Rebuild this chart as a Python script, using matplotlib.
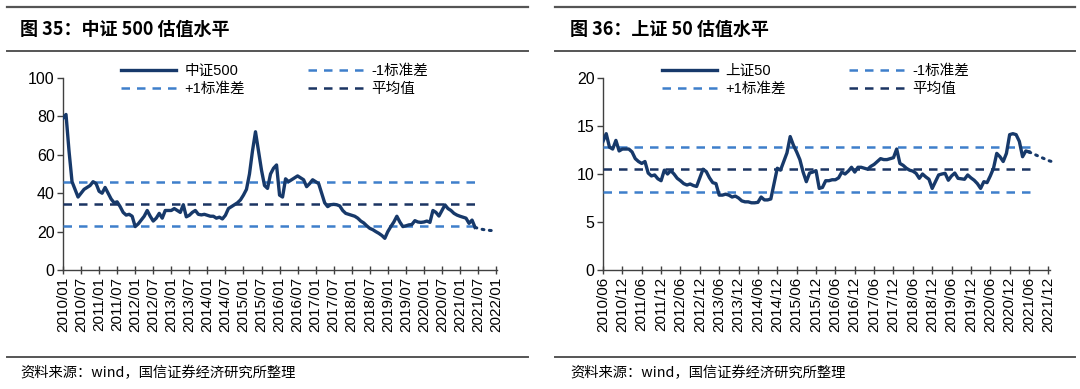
import numpy as np
import matplotlib
matplotlib.use('Agg')
import matplotlib.pyplot as plt

# %% data (monthly)

zz500_pe = [79, 81, 62, 46, 42, 38, 40, 42, 43, 44, 46, 45,
            41, 40, 43, 40, 37, 35, 35.5, 33, 30, 28.6, 29, 28,
            22.6, 24, 26, 28, 31, 28, 25.5, 27, 29.5, 27, 31, 31,
            31, 32, 31, 30, 34, 27.7, 28.5, 30, 31, 29, 28.7, 29,
            28.5, 28, 28, 27, 27.5, 26.6, 28.5, 32, 33, 34, 35, 36.5,
            39, 42, 50, 62, 72, 62, 52, 44, 42.5, 50, 53, 54.7,
            39, 38, 47.5, 46, 47, 48, 49, 48, 47, 43.4, 45, 47,
            46, 45, 40, 35, 33, 34, 34.2, 34, 33.4, 31, 29.5, 29,
            28.5, 28, 27, 25.5, 24.5, 23, 21.7, 21, 20, 19.1, 18, 16.5,
            20, 22.6, 25, 28, 25, 22.6, 23, 23.5, 23.7, 25.7, 25, 24.8,
            25, 25.5, 24.8, 31, 30, 28.1, 31, 33.9, 32, 31, 29.5, 28.6,
            28, 27.5, 27, 24.3, 26, 22.2]
zz500_tail = [22.2, 21.7, 21.3, 21.0, 20.8, 20.6, 20.5]
zz500_mean = 34.4
zz500_up = 45.8
zz500_dn = 23.1
zz500_ticks = ['2010/01', '2010/07', '2011/01', '2011/07', '2012/01', '2012/07',
               '2013/01', '2013/07', '2014/01', '2014/07', '2015/01', '2015/07',
               '2016/01', '2016/07', '2017/01', '2017/07', '2018/01', '2018/07',
               '2019/01', '2019/07', '2020/01', '2020/07', '2021/01', '2021/07',
               '2022/01']

sz50_pe = [13.4, 14.2, 12.8, 12.6, 13.5, 12.4,
           12.6, 12.6, 12.6, 12.3, 11.6, 11.3,
           11.1, 11.3, 10.1, 9.8, 9.9, 9.5,
           9.3, 10.4, 10.0, 10.35, 10.0, 9.55,
           9.3, 9.0, 8.85, 8.96, 8.8, 8.7,
           9.6, 10.5, 10.25, 9.6, 9.1, 9.0,
           7.8, 7.8, 7.9, 7.8, 7.6, 7.7,
           7.5, 7.2, 7.1, 7.1, 7.0, 7.0,
           7.05, 7.6, 7.3, 7.3, 7.4, 9.0,
           10.6, 10.4, 11.3, 12.2, 13.9, 13.0,
           12.3, 11.5, 10.2, 9.2, 10.1, 10.2,
           10.35, 8.5, 8.6, 9.3, 9.3, 9.4,
           9.4, 9.6, 10.2, 10.0, 10.3, 10.7,
           10.2, 10.7, 10.7, 10.6, 10.5, 10.8,
           11.0, 11.3, 11.6, 11.5, 11.5, 11.6,
           11.7, 12.6, 11.1, 10.9, 10.6, 10.4,
           10.3, 10.07, 9.55, 10.0, 9.7, 9.45,
           8.5, 9.2, 9.9, 10.0, 10.07, 9.35,
           9.8, 10.1, 9.55, 9.5, 9.45, 9.9,
           9.6, 9.35, 9.0, 8.5, 9.2, 9.1,
           9.8, 10.6, 12.15, 11.8, 11.3, 12.15,
           14.1, 14.2, 14.1, 13.4, 11.8, 12.4,
           12.3]
sz50_tail = [12.3, 12.15, 12.0, 11.85, 11.7, 11.55, 11.4, 11.3]
sz50_mean = 10.5
sz50_up = 12.85
sz50_dn = 8.16
sz50_ticks = ['2010/06', '2010/12', '2011/06', '2011/12', '2012/06', '2012/12',
              '2013/06', '2013/12', '2014/06', '2014/12', '2015/06', '2015/12',
              '2016/06', '2016/12', '2017/06', '2017/12', '2018/06', '2018/12',
              '2019/06', '2019/12', '2020/06', '2020/12', '2021/06', '2021/12']

# %% style

line_c = '#17396A'
light_c = '#3E7FCB'
dark_c = '#1B3462'
num_font = ['Liberation Sans', 'Noto Sans CJK SC']
cjk_font = ['Noto Sans CJK SC', 'DejaVu Sans']
plt.rcParams['font.family'] = num_font

fig = plt.figure(figsize=(10.8, 3.89), dpi=100)
W, H = 1080.0, 389.0


def draw_panel(ax, vals, tail, mean, up, dn, ticks, name, ymax, ystep, xmax):
    n = len(vals)
    x = np.arange(n)
    ax.plot(x, vals, color=line_c, lw=2.4, solid_joinstyle='round', label=name, zorder=4)
    ax.plot(np.arange(n - 1, n - 1 + len(tail)), tail, color=line_c, lw=2.2,
            linestyle=(0, (0.6, 1.8)), dash_capstyle='round', clip_on=False, zorder=4)
    xs = [0, n - 0.5]
    ax.plot(xs, [dn, dn], color=light_c, lw=1.8, dashes=(3.4, 2.8), label='-1标准差', zorder=3)
    ax.plot(xs, [up, up], color=light_c, lw=1.8, dashes=(3.4, 2.8), label='+1标准差', zorder=3)
    ax.plot(xs, [mean, mean], color=dark_c, lw=1.8, dashes=(3.4, 2.8), label='平均值', zorder=3)

    ax.set_ylim(0, ymax)
    ax.set_yticks(np.arange(0, ymax + 0.1, ystep))
    ax.set_xlim(0, xmax)
    ax.set_xticks(np.arange(len(ticks)) * 6)
    ax.set_xticklabels(ticks, rotation=90)
    for s in ['top', 'right']:
        ax.spines[s].set_visible(False)
    for s in ['left', 'bottom']:
        ax.spines[s].set_color('#404040')
        ax.spines[s].set_linewidth(1.0)
    ax.tick_params(axis='both', direction='out', length=4, width=1.0, color='#404040',
                   labelcolor='black', pad=2)
    ax.tick_params(axis='y', labelsize=11.5)
    ax.tick_params(axis='x', direction='inout', length=6, labelsize=11)


# left panel: 中证500
ax1 = fig.add_axes([63 / W, 1 - 270 / H, 434 / W, 192 / H])
draw_panel(ax1, zz500_pe, zz500_tail, zz500_mean, zz500_up, zz500_dn,
           zz500_ticks, '中证500', 100, 20, 144.3)
h, l = ax1.get_legend_handles_labels()
order = [0, 2, 1, 3]
ax1.legend([h[i] for i in order], [l[i] for i in order], ncol=2, frameon=False,
           loc='upper left', bbox_to_anchor=(121 / W, 1 - 64 / H), bbox_transform=fig.transFigure,
           borderpad=0, borderaxespad=0, handlelength=3.8, handletextpad=0.55,
           columnspacing=4.3, labelspacing=0.3, prop={'family': num_font, 'size': 10.5})

# right panel: 上证50
ax2 = fig.add_axes([603 / W, 1 - 270 / H, 447 / W, 192 / H])
draw_panel(ax2, sz50_pe, sz50_tail, sz50_mean, sz50_up, sz50_dn,
           sz50_ticks, '上证50', 20, 5, 138.5)
h, l = ax2.get_legend_handles_labels()
ax2.legend([h[i] for i in order], [l[i] for i in order], ncol=2, frameon=False,
           loc='upper left', bbox_to_anchor=(662 / W, 1 - 64 / H), bbox_transform=fig.transFigure,
           borderpad=0, borderaxespad=0, handlelength=3.8, handletextpad=0.55,
           columnspacing=4.3, labelspacing=0.3, prop={'family': num_font, 'size': 10.5})

# titles, rules and source notes
for x0, x1, tx, title in [(7, 528, 20, '图 35：中证 500 估值水平'),
                          (555, 1075, 570, '图 36：上证 50 估值水平')]:
    for yy, lw in [(7, 1.6), (51, 1.4), (357, 1.4)]:
        fig.add_artist(plt.Line2D([x0 / W, x1 / W], [1 - yy / H, 1 - yy / H],
                                  transform=fig.transFigure, color='#555555', lw=lw))
    fig.text(tx / W, 1 - 29 / H, title, fontsize=13, fontweight='bold',
             family=cjk_font, va='center', ha='left')
    fig.text(tx / W, 1 - 373 / H, '资料来源：wind，国信证券经济研究所整理', fontsize=10.3,
             family=cjk_font, va='center', ha='left')

fig.savefig('out.png', dpi=100)
